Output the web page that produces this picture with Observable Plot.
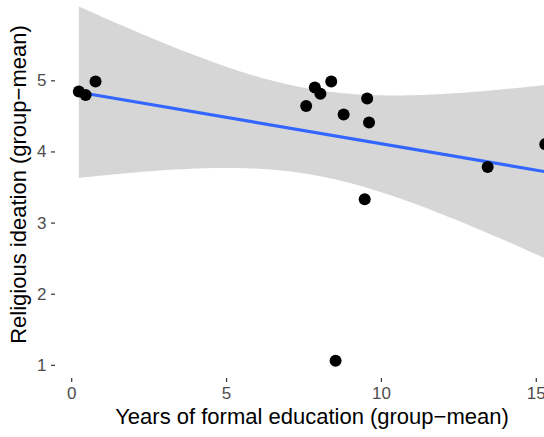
<!DOCTYPE html>
<html>
<head>
<meta charset="utf-8">
<script src="https://cdn.jsdelivr.net/npm/d3@7"></script>
<script src="https://cdn.jsdelivr.net/npm/@observablehq/plot@0.6"></script>
<style>
  html, body { margin: 0; padding: 0; background: #fff; overflow: hidden; }
  #chart svg { display: block; }
</style>
</head>
<body>
<div id="chart"></div>
<script>
// Group means: years of formal education (x) vs religious ideation (y)
const education = [0.23, 0.45, 0.77, 7.57, 7.85, 8.03, 8.38, 8.78, 9.54, 9.60, 9.46, 13.43, 15.29, 8.52];
const ideation  = [4.85, 4.80, 4.99, 4.645, 4.906, 4.82, 4.99, 4.527, 4.75, 4.415, 3.335, 3.79, 4.11, 1.063];
const xTicks = [0, 5, 10, 15];
const yTicks = [1, 2, 3, 4, 5];
const xTitle = "Years of formal education (group\u2212mean)";
const yTitle = "Religious ideation (group\u2212mean)";

const data = education.map((x, i) => ({x, y: ideation[i]}));

const font = "'Liberation Sans', Arial, Helvetica, sans-serif";

const chart = Plot.plot({
  width: 544,
  height: 437,
  marginLeft: 55,
  marginRight: -24,
  marginTop: -10,
  marginBottom: 59,
  style: {fontFamily: font, background: "#fff", overflow: "hidden"},
  x: {domain: [-0.523, 16.04]},
  y: {domain: [0.815, 6.27]},
  marks: [
    Plot.linearRegressionY(data, {
      x: "x", y: "y",
      ci: 0.95,
      fill: "#999999", fillOpacity: 0.4,
      stroke: "#3366FF", strokeWidth: 3.2
    }),
    Plot.dot(data, {x: "x", y: "y", r: 6, fill: "#000", stroke: "none"}),
    Plot.axisX({
      ticks: xTicks, tickFormat: d => String(d), tickSize: 4, tickPadding: 4, fontSize: 17,
      color: "#4D4D4D", stroke: "#333333", strokeWidth: 1.2, label: null
    }),
    Plot.axisY({
      ticks: yTicks, tickFormat: d => String(d), tickSize: 4, tickPadding: 5, fontSize: 17,
      color: "#4D4D4D", stroke: "#333333", strokeWidth: 1.2, label: null
    }),
    Plot.text([xTitle], {
      text: d => d, frameAnchor: "bottom", dy: 38, lineAnchor: "middle",
      textAnchor: "middle", fontSize: 22, fill: "#000"
    }),
    Plot.text([yTitle], {
      text: d => d, frameAnchor: "left", dx: -37, rotate: -90,
      textAnchor: "middle", lineAnchor: "middle", fontSize: 22, fill: "#000"
    })
  ]
});

document.getElementById("chart").appendChild(chart);
</script>
</body>
</html>
